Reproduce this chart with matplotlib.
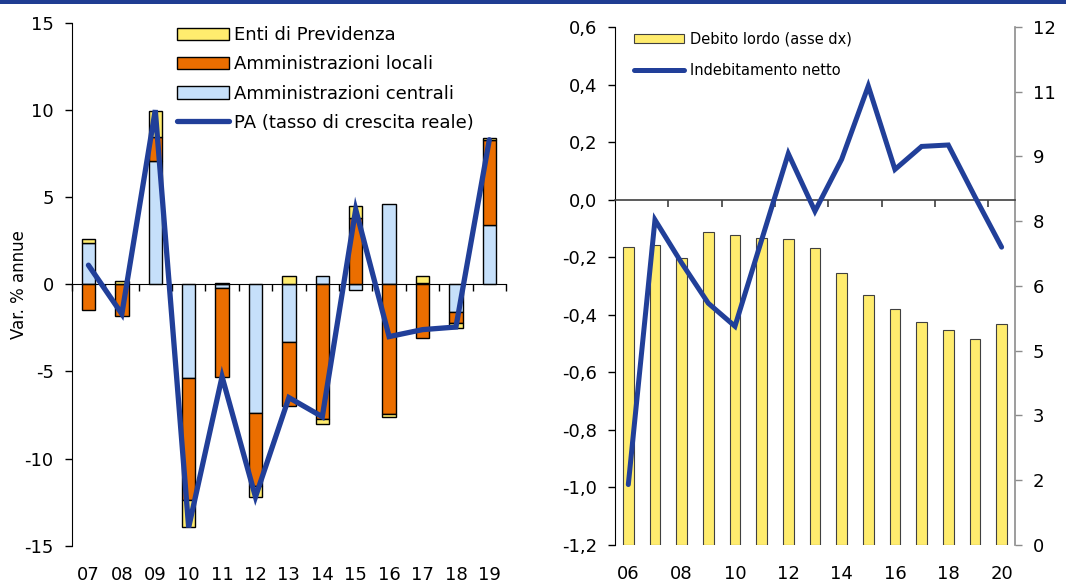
import numpy as np
import matplotlib
matplotlib.use("Agg")
import matplotlib.pyplot as plt
from matplotlib.lines import Line2D
from matplotlib.patches import Patch
from matplotlib.ticker import FuncFormatter
from matplotlib.transforms import blended_transform_factory

plt.rcParams['font.family'] = ['DejaVu Sans']

# --- left panel: contributions to real growth of PA spending ---
years_l = ['07', '08', '09', '10', '11', '12', '13', '14', '15', '16', '17', '18', '19']
centrali = [2.4, 0.0, 7.1, -5.4, -0.2, -7.4, -3.3, 0.45, -0.3, 4.6, 0.1, -1.6, 3.4]
locali = [-1.5, -1.8, 1.35, -7.0, -5.1, -4.15, -3.7, -7.75, 3.8, -7.45, -3.1, -0.6, 4.9]
enti = [0.2, 0.2, 1.5, -1.5, 0.05, -0.65, 0.5, -0.27, 0.7, -0.15, 0.4, -0.3, 0.08]
pa_growth = [1.1, -1.7, 10.0, -13.95, -5.3, -12.2, -6.5, -7.6, 4.3, -3.0, -2.6, -2.45, 8.3]

# --- right panel: net borrowing (left axis) and gross debt (right axis) ---
years_r = ['06', '07', '08', '09', '10', '11', '12', '13', '14', '15', '16', '17', '18', '19', '20']
indebitamento = [-0.99, -0.07, -0.22, -0.36, -0.44, -0.14, 0.16, -0.04, 0.14, 0.395,
                 0.105, 0.185, 0.19, 0.01, -0.165]
debito = [6.9, 6.95, 6.65, 7.25, 7.17, 7.12, 7.1, 6.87, 6.3, 5.8, 5.47, 5.16, 4.99, 4.77, 5.12]

YELLOW = '#FFEC6E'
ORANGE = '#EB6E00'
LIGHTBLUE = '#C6E0FA'
NAVY = '#213F99'
TICK_FS = 13

fig = plt.figure(figsize=(10.66, 5.82), dpi=100)

# thin band across the top
fig.add_artist(plt.Rectangle((0, 0.993), 1, 0.007, transform=fig.transFigure,
                             color='#203D92', lw=0))

# ---------------- left chart ----------------
ax = fig.add_axes([0.0673, 0.0624, 0.4074, 0.8981])
x = np.arange(len(years_l))
pos_base = np.zeros(len(x))
neg_base = np.zeros(len(x))
for vals, col, lab in [(centrali, LIGHTBLUE, 'Amministrazioni centrali'),
                       (locali, ORANGE, 'Amministrazioni locali'),
                       (enti, YELLOW, 'Enti di Previdenza')]:
    v = np.array(vals, dtype=float)
    base = np.where(v >= 0, pos_base, neg_base)
    ax.bar(x, v, bottom=base, width=0.4, color=col, edgecolor='black', linewidth=1.0, label=lab, zorder=2)
    pos_base += np.where(v >= 0, v, 0)
    neg_base += np.where(v < 0, v, 0)
ax.plot(x, pa_growth, color=NAVY, lw=3.8, zorder=3, solid_capstyle='round', solid_joinstyle='miter')

ax.set_xlim(-0.5, len(x) - 0.5)
ax.set_ylim(-15, 15)
ax.set_yticks([-15, -10, -5, 0, 5, 10, 15])
ax.set_yticklabels(['-15', '-10', '-5', '0', '5', '10', '15'])
ax.spines['top'].set_visible(False)
ax.spines['right'].set_visible(False)
ax.spines['bottom'].set_position(('data', 0))
ax.spines['bottom'].set_zorder(2.5)
ax.set_xticks(np.arange(-0.5, len(x), 1.0))
ax.set_xticklabels([])
ax.tick_params(axis='x', direction='out', length=5, width=1)
ax.tick_params(axis='y', direction='out', length=5, width=1, labelsize=TICK_FS, pad=8)
tr = blended_transform_factory(ax.transData, ax.transAxes)
for i, lab in enumerate(years_l):
    ax.text(i, -0.038, lab, transform=tr, ha='center', va='top', fontsize=TICK_FS)
ax.set_ylabel('Var. % annue', fontsize=12)
ax.yaxis.set_label_coords(-0.10, 0.5)

handles = [Patch(facecolor=YELLOW, edgecolor='black', lw=1),
           Patch(facecolor=ORANGE, edgecolor='black', lw=1),
           Patch(facecolor=LIGHTBLUE, edgecolor='black', lw=1),
           Line2D([], [], color=NAVY, lw=3.8, solid_capstyle='round')]
labels = ['Enti di Previdenza', 'Amministrazioni locali', 'Amministrazioni centrali',
          'PA (tasso di crescita reale)']
fig.legend(handles, labels, loc='upper left', bbox_to_anchor=(0.166, 0.955), frameon=False,
           fontsize=13, handlelength=2.9, handletextpad=0.25, labelspacing=0.62,
           borderaxespad=0, borderpad=0)

# ---------------- right chart ----------------
rect = [0.5769, 0.0636, 0.3752, 0.8900]
axb = fig.add_axes(rect)
axl = axb.twinx()
xr = np.arange(len(years_r))

# gross debt bars on the right-hand scale
axb.bar(xr, debito, width=0.4, color=YELLOW, edgecolor='#404040', linewidth=0.8, zorder=2)
axb.set_ylim(0, 12)
axb.set_yticks(np.arange(0, 12.01, 1.5))
axb.yaxis.set_major_formatter(FuncFormatter(lambda v, p: '%d' % int(v + 0.5)))
axb.yaxis.tick_right()
axb.tick_params(axis='y', direction='out', length=5, width=1, color='#8C8C8C', labelsize=TICK_FS, pad=8)
axb.tick_params(axis='x', length=0, labelbottom=False)
for s in ['top', 'left', 'bottom']:
    axb.spines[s].set_visible(False)
axb.spines['right'].set_color('#8C8C8C')
axb.spines['right'].set_linewidth(1.2)

# net borrowing line on the left-hand scale
axl.yaxis.tick_left()
axl.xaxis.set_visible(True)
axl.plot(xr, indebitamento, color=NAVY, lw=3.6, zorder=3, solid_capstyle='round', solid_joinstyle='miter')
axl.set_ylim(-1.2, 0.6)
axl.set_yticks(np.round(np.arange(-1.2, 0.61, 0.2), 1))
axl.yaxis.set_major_formatter(FuncFormatter(lambda v, p: ('%.1f' % v).replace('.', ',').replace('-0,0', '0,0')))
axl.tick_params(axis='y', direction='out', length=5, width=1, labelsize=TICK_FS, pad=8)
axl.spines['left'].set_visible(True)
axl.spines['left'].set_color('black')
axl.spines['right'].set_visible(False)
axl.spines['top'].set_visible(False)
axl.spines['bottom'].set_position(('data', 0))
axl.spines['bottom'].set_color('#404040')
axl.spines['bottom'].set_linewidth(1.2)
axl.set_xlim(-0.5, len(xr) - 0.5)
axl.set_xticks(np.arange(1.5, len(xr) - 1, 2.0))
axl.set_xticklabels([])
axl.tick_params(axis='x', which='both', bottom=True, top=False, direction='out',
                length=5, width=1.2, color='#404040', labelbottom=False)

trr = blended_transform_factory(axl.transData, axl.transAxes)
for i, lab in enumerate(years_r):
    if i % 2 == 0:
        axl.text(i, -0.038, lab, transform=trr, ha='center', va='top', fontsize=TICK_FS)

fig.legend([Patch(facecolor=YELLOW, edgecolor='#404040', lw=0.8),
            Line2D([], [], color=NAVY, lw=3.6, solid_capstyle='round')],
           ['Debito lordo (asse dx)', 'Indebitamento netto'],
           loc='upper left', bbox_to_anchor=(0.595, 0.946), frameon=False,
           fontsize=10.5, handlelength=3.4, handletextpad=0.4, labelspacing=1.15,
           handleheight=0.6, borderaxespad=0, borderpad=0)

fig.savefig('out.png', dpi=100)
